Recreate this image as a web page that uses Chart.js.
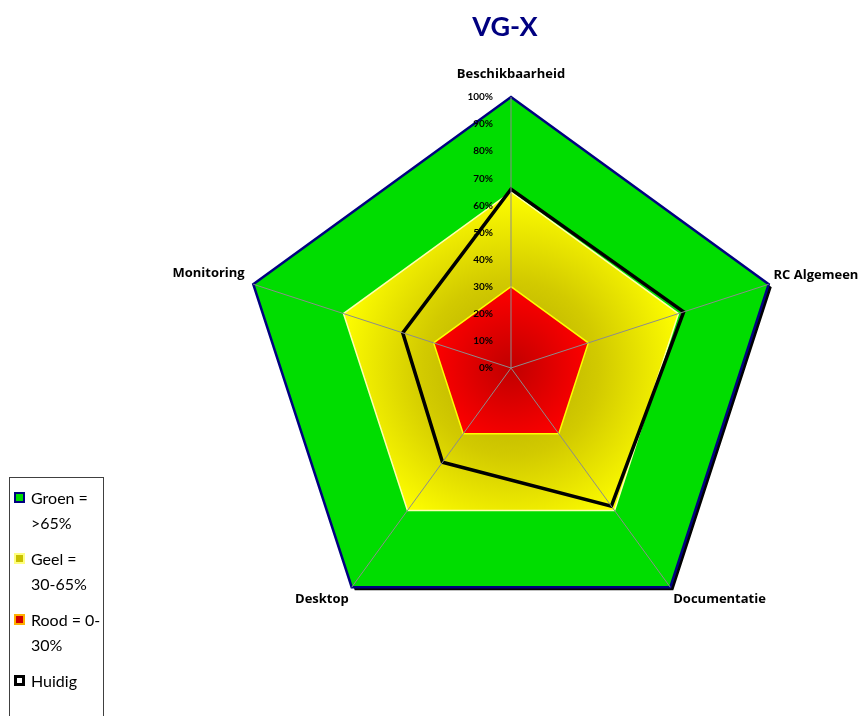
<!DOCTYPE html>
<html>
<head>
<meta charset="utf-8">
<script src="https://cdn.jsdelivr.net/npm/chart.js@4.4.1/dist/chart.umd.min.js"></script>
<style>
  html, body { margin: 0; padding: 0; background: #fff; }
  #wrap { position: relative; width: 858px; height: 716px; overflow: hidden; }
  #chart { position: absolute; left: 0; top: 0; }
  #legend {
    position: absolute; left: 9px; top: 477px; width: 95px; height: 260px;
    border: 1px solid #404040; box-sizing: border-box; padding-top: 8px; overflow: hidden;
    font-family: Lato, sans-serif; font-size: 16px; line-height: 24.5px; color: #000;
  }
  .item { position: relative; padding-left: 21px; margin-bottom: 12px; white-space: nowrap; }
  .box { position: absolute; left: 4px; top: 6px; width: 11px; height: 11px; box-sizing: border-box; }
</style>
</head>
<body>
<div id="wrap">
  <!-- a few px wider than the page so the right label has room; the extra is clipped -->
  <canvas id="chart" width="864" height="716"></canvas>
  <div id="legend"></div>
</div>
<script>
// data
const categories = ['Beschikbaarheid', 'RC Algemeen', 'Documentatie', 'Desktop', 'Monitoring'];
const groen = [100, 100, 100, 100, 100];
const geel = [65, 65, 65, 65, 65];
const rood = [30, 30, 30, 30, 30];
const huidig = [66, 67, 63, 43, 42];
const tickLabels = ['0%', '10%', '20%', '30%', '40%', '50%', '60%', '70%', '80%', '90%', '100%'];
const legendLines = [['Groen =', '>65%'], ['Geel =', '30-65%'], ['Rood = 0-', '30%'], ['Huidig']];

// radial gradient from the centre of the scale out to a value
function radial(ctx, value, stops) {
  const s = ctx.chart.scales.r;
  if (!s || !s.drawingArea) return stops[stops.length - 1][1];
  const r = s.getDistanceFromCenterForValue(value);
  const g = ctx.chart.ctx.createRadialGradient(s.xCenter, s.yCenter, 0, s.xCenter, s.yCenter, r);
  stops.forEach(st => g.addColorStop(st[0], st[1]));
  return g;
}

// black drop shadow under the green fill only (filler draws before this hook)
const shadow = {
  id: 'shadow',
  beforeDatasetsDraw(chart) {
    const c = chart.ctx;
    c.save();
    c.shadowColor = '#000';
    c.shadowOffsetX = 3;
    c.shadowOffsetY = 3;
    c.shadowBlur = 0;
  },
  beforeDatasetDraw(chart, args) {
    if (args.index === 0) chart.ctx.restore();
  }
};

// title a bit left of the radar centre, like the original
const titlePos = {
  id: 'titlePos',
  afterLayout(chart) {
    const tb = chart.titleBlock, s = chart.scales.r;
    const d = (tb.left + tb.right) / 2 - (s.xCenter - 6);
    tb.left -= d;
    tb.right -= d;
  }
};

// tick labels to the left of the vertical axis
const tickText = {
  id: 'tickText',
  afterDraw(chart) {
    const s = chart.scales.r, c = chart.ctx;
    c.save();
    c.font = 'bold 10px Lato';
    c.fillStyle = '#000';
    c.textAlign = 'right';
    c.textBaseline = 'middle';
    s.ticks.forEach(t => {
      c.fillText(t.label, s.xCenter - 18, s.yCenter - s.getDistanceFromCenterForValue(t.value));
    });
    c.restore();
  }
};

new Chart(document.getElementById('chart'), {
  type: 'radar',
  data: {
    labels: categories,
    datasets: [
      {
        label: 'Groen = >65%', data: groen, order: 4, fill: 'origin',
        backgroundColor: '#00dd00', borderColor: '#000080', borderWidth: 2.5
      },
      {
        label: 'Geel = 30-65%', data: geel, order: 3, fill: 'origin',
        backgroundColor: ctx => radial(ctx, Math.max(...geel), [[0, '#b0a800'], [0.5, '#d2ca00'], [1, '#ffff00']]),
        borderColor: '#ffffb0', borderWidth: 1.5
      },
      {
        label: 'Rood = 0-30%', data: rood, order: 2, fill: 'origin',
        backgroundColor: ctx => radial(ctx, Math.max(...rood), [[0, '#c00000'], [1, '#ff0000']]),
        borderColor: '#ffff00', borderWidth: 1.5
      },
      {
        label: 'Huidig', data: huidig, order: 1, fill: false,
        borderColor: '#000', borderWidth: 3.5
      }
    ]
  },
  options: {
    responsive: false,
    animation: false,
    layout: { padding: { left: 168, right: 0, top: 0, bottom: 61 } },
    elements: {
      line: { tension: 0, borderJoinStyle: 'miter' },
      point: { radius: 0, hoverRadius: 0 }
    },
    plugins: {
      legend: { display: false },
      tooltip: { enabled: false },
      title: {
        display: true, text: 'VG-X', color: '#000080',
        font: { family: 'Lato', size: 27, weight: 'bold', lineHeight: 1.2 },
        padding: { top: 11, bottom: 8 }
      }
    },
    scales: {
      r: {
        min: 0, max: 100,
        ticks: { stepSize: 10, display: false, callback: (v, i) => tickLabels[i] },
        grid: { display: false, z: 1 },
        angleLines: { display: true, color: '#8c8c8c', lineWidth: 1 },
        pointLabels: {
          display: true, color: '#000',
          font: { family: 'Open Sans', size: 13, weight: 'bold', lineHeight: 1.2 },
          padding: c => c.index === 0 ? 15 : (c.index === 4 ? 9 : 5)
        }
      }
    }
  },
  plugins: [shadow, titlePos, tickText]
});

// html legend, so the labels can wrap over two lines like the original
const icons = [
  'background:#00dd00;border:2px solid #000080;',
  'background:#c8c000;border:2px solid #ffff80;',
  'background:#d00000;border:2px solid #ffb000;',
  'background:#fff;border:3px solid #000;'
];
const legend = document.getElementById('legend');
legendLines.forEach((lines, i) => {
  const item = document.createElement('div');
  item.className = 'item';
  item.innerHTML = '<span class="box" style="' + icons[i] + '"></span>' + lines.join('<br>');
  legend.appendChild(item);
});
</script>
</body>
</html>
